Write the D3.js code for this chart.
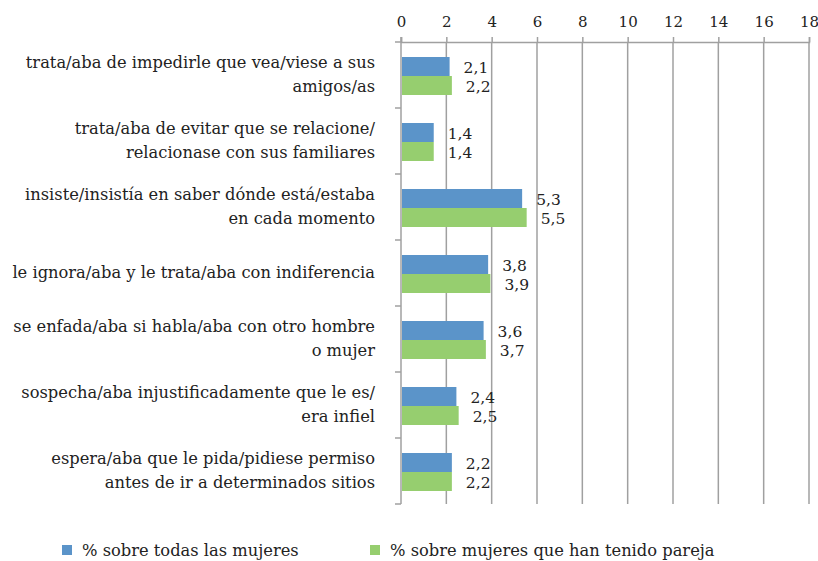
<!DOCTYPE html>
<html>
<head>
<meta charset="utf-8">
<script src="https://cdn.jsdelivr.net/npm/d3@7"></script>
<style>
    body { margin: 0; background: #fff; }
    svg { display: block; }
</style>
</head>
<body>
<div id="chart"></div>
<script>
const categories = [
    ['trata/aba de impedirle que vea/viese a sus', 'amigos/as'],
    ['trata/aba de evitar que se relacione/', 'relacionase con sus familiares'],
    ['insiste/insistía en saber dónde está/estaba', 'en cada momento'],
    ['le ignora/aba y le trata/aba con indiferencia'],
    ['se enfada/aba si habla/aba con otro hombre', 'o mujer'],
    ['sospecha/aba injustificadamente que le es/', 'era infiel'],
    ['espera/aba que le pida/pidiese permiso', 'antes de ir a determinados sitios']
];
const seriesNames = ['% sobre todas las mujeres', '% sobre mujeres que han tenido pareja'];
const todasValues = [2.1, 1.4, 5.3, 3.8, 3.6, 2.4, 2.2];
const parejaValues = [2.2, 1.4, 5.5, 3.9, 3.7, 2.5, 2.2];
const xTicks = [0, 2, 4, 6, 8, 10, 12, 14, 16, 18];

const colors = ['#5b94c9', '#96ce6f'];
const font = '"DejaVu Serif", serif';

function createChart() {
    const width = 818, height = 561;
    const margin = { top: 42, right: 9, bottom: 57, left: 401 };

    const svg = d3.select('#chart')
        .append('svg')
        .attr('width', width)
        .attr('height', height);

    const x = d3.scaleLinear()
        .domain([0, 18])
        .range([margin.left, width - margin.right]);

    const y = d3.scaleBand()
        .domain(d3.range(categories.length))
        .range([margin.top, height - margin.bottom]);

    const inner = d3.scaleBand()
        .domain([0, 1])
        .range([15, y.bandwidth() - 13]);

    // vertical grid lines
    svg.append('g')
        .selectAll('line')
        .data(xTicks.slice(1))
        .enter()
        .append('line')
        .attr('x1', d => x(d))
        .attr('x2', d => x(d))
        .attr('y1', margin.top)
        .attr('y2', height - margin.bottom)
        .attr('stroke', '#a0a0a0')
        .attr('stroke-width', 1.5);

    // top axis
    const xAxis = svg.append('g')
        .attr('transform', `translate(0,${margin.top})`)
        .call(d3.axisTop(x).tickValues(xTicks).tickSize(5).tickPadding(10));
    xAxis.select('.domain').attr('stroke', '#a0a0a0').attr('stroke-width', 1.5);
    xAxis.selectAll('line').attr('stroke', '#a0a0a0').attr('stroke-width', 1.5);
    xAxis.selectAll('text')
        .style('font-family', font)
        .style('font-size', '15px')
        .style('fill', '#222');

    // left axis
    const yAxisG = svg.append('g');
    yAxisG.append('line')
        .attr('x1', x(0)).attr('x2', x(0))
        .attr('y1', margin.top - 5).attr('y2', height - margin.bottom)
        .attr('stroke', '#a0a0a0').attr('stroke-width', 1.5);
    yAxisG.selectAll('.ytick')
        .data(d3.range(categories.length + 1))
        .enter()
        .append('line')
        .attr('class', 'ytick')
        .attr('x1', x(0) - 6).attr('x2', x(0))
        .attr('y1', d => margin.top + d * y.step())
        .attr('y2', d => margin.top + d * y.step())
        .attr('stroke', '#a0a0a0').attr('stroke-width', 1.5);

    const series = [todasValues, parejaValues];

    series.forEach((vals, s) => {
        svg.selectAll('.bar-' + s)
            .data(vals)
            .enter()
            .append('rect')
            .attr('class', 'bar-' + s)
            .attr('x', x(0) + 1)
            .attr('y', (d, i) => y(i) + inner(s))
            .attr('width', d => x(d) - x(0))
            .attr('height', inner.bandwidth())
            .attr('fill', colors[s]);

        svg.selectAll('.val-' + s)
            .data(vals)
            .enter()
            .append('text')
            .attr('class', 'val-' + s)
            .attr('x', d => x(d) + 15)
            .attr('y', (d, i) => y(i) + inner(s) + inner.bandwidth() / 2 + 6)
            .style('font-family', font)
            .style('font-size', '15.5px')
            .style('fill', '#222')
            .text(d => String(d).replace('.', ','));
    });

    // category labels
    svg.selectAll('.cat')
        .data(categories)
        .enter()
        .append('text')
        .attr('class', 'cat')
        .attr('text-anchor', 'end')
        .style('font-family', font)
        .style('font-size', '16.3px')
        .style('fill', '#222')
        .each(function (d, i) {
            const t = d3.select(this);
            const cy = y(i) + y.bandwidth() / 2;
            const start = cy - (d.length - 1) * 12 + 5;
            d.forEach((line, j) => {
                t.append('tspan')
                    .attr('x', 375)
                    .attr('y', start + j * 24)
                    .text(line);
            });
        });

    // legend
    const legendX = [62, 370];
    const legend = svg.selectAll('.legend-item')
        .data(seriesNames)
        .enter()
        .append('g')
        .attr('class', 'legend-item')
        .attr('transform', (d, i) => `translate(${legendX[i]}, 545)`);
    legend.append('rect')
        .attr('width', 10)
        .attr('height', 10)
        .attr('fill', (d, i) => colors[i]);
    legend.append('text')
        .attr('x', 20)
        .attr('y', 11)
        .style('font-family', font)
        .style('font-size', '16.3px')
        .style('fill', '#222')
        .text(d => d);
}

createChart();
</script>
</body>
</html>
